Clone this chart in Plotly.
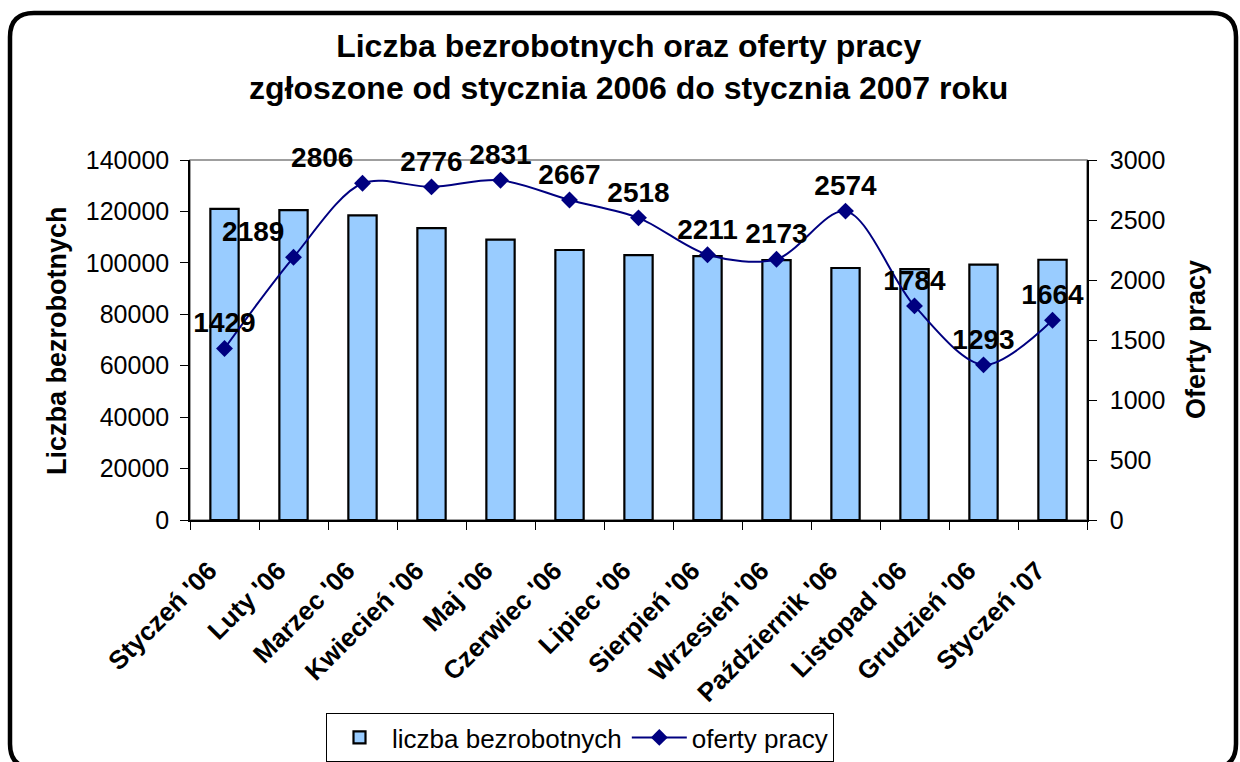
import plotly.graph_objects as go

# ---- data ----
months = ["Styczeń '06", "Luty '06", "Marzec '06", "Kwiecień '06", "Maj '06",
          "Czerwiec '06", "Lipiec '06", "Sierpień '06", "Wrzesień '06",
          "Październik '06", "Listopad '06", "Grudzień '06", "Styczeń '07"]
unemployed = [121000, 120500, 118500, 113500, 109000, 105000, 103000,
              102600, 101100, 98000, 97600, 99300, 101200]
job_offers = [1429, 2189, 2806, 2776, 2831, 2667, 2518, 2211, 2173, 2574,
              1784, 1293, 1664]
label_pos = ["top center", "top left", "top left", "top center", "top center",
             "top center", "top center", "top center", "top center",
             "top center", "top center", "top center", "top center"]
left_ticks = [0, 20000, 40000, 60000, 80000, 100000, 120000, 140000]
right_ticks = [0, 500, 1000, 1500, 2000, 2500, 3000]

W, H = 1240, 762
ML, MR, MT, MB = 190, 153, 160, 242
PW, PH = W - ML - MR, H - MT - MB

def px(x):
    return (x - ML) / PW

def py(y):
    return (H - MB - y) / PH

FONT = "Liberation Sans, Arial, sans-serif"
NB = "\u00a0"

fig = go.Figure()
fig.add_trace(go.Bar(
    x=months, y=unemployed, name="liczba bezrobotnych",
    marker=dict(color="#99CCFF", line=dict(color="black", width=2.2)),
    width=0.41, yaxis="y"))
fig.add_trace(go.Scatter(
    x=months, y=job_offers, name="oferty pracy", yaxis="y2",
    mode="lines+markers+text", line=dict(color="#000080", width=2, shape="spline", smoothing=0.9),
    marker=dict(symbol="diamond", size=13, color="#000080"),
    text=[str(v) for v in job_offers], textposition=label_pos,
    textfont=dict(family=FONT, size=28, color="black", weight="bold"),
    cliponaxis=False))

# frame (rounded rectangle)
fl, ft, fr, fb, rr = 10, 13, 1236, 768, 24
path = (f"M {px(fl+rr)},{py(ft)} L {px(fr-rr)},{py(ft)} Q {px(fr)},{py(ft)} {px(fr)},{py(ft+rr)} "
        f"L {px(fr)},{py(fb-rr)} Q {px(fr)},{py(fb)} {px(fr-rr)},{py(fb)} "
        f"L {px(fl+rr)},{py(fb)} Q {px(fl)},{py(fb)} {px(fl)},{py(fb-rr)} "
        f"L {px(fl)},{py(ft+rr)} Q {px(fl)},{py(ft)} {px(fl+rr)},{py(ft)} Z")

fig.update_layout(
    width=W, height=H,
    margin=dict(l=ML, r=MR, t=MT, b=MB, autoexpand=False),
    paper_bgcolor="white", plot_bgcolor="white",
    font=dict(family=FONT, color="black", size=25),
    bargap=0.6,
    showlegend=True,
    legend=dict(orientation="h", x=px(580), xanchor="center", y=py(713), yanchor="top",
                bordercolor="black", borderwidth=1, bgcolor="white",
                font=dict(size=26, family=FONT), traceorder="normal", itemwidth=55,
                tracegroupgap=0),
    xaxis=dict(type="category", tickangle=-45, tickson="boundaries", ticks="outside",
               ticklen=8, tickcolor="black", showline=True, linecolor="black", linewidth=1.5,
               showgrid=False, tickfont=dict(size=26, family=FONT, weight="bold"),
               tickmode="array", tickvals=months, ticktext=[m + NB * 3 for m in months],
               ticklabelstandoff=8, range=[-0.5, 12.5], automargin=False),
    xaxis2=dict(overlaying="x", anchor="y", range=[-0.5, 12.5],
                tickvals=[i - 0.5 for i in range(len(months) + 1)], ticks="inside", ticklen=8,
                tickcolor="black", showticklabels=False, showgrid=False, showline=False,
                zeroline=False, side="bottom"),
    yaxis=dict(range=[0, 140000], tickvals=left_ticks, ticktext=[str(v) for v in left_ticks],
               ticks="outside", ticklen=8,
               tickcolor="black", showline=True, linecolor="black", linewidth=1.5,
               showgrid=False, zeroline=False, tickfont=dict(size=25), ticklabelstandoff=6,
               automargin=False),
    yaxis2=dict(range=[0, 3000], tickvals=right_ticks, ticktext=[str(v) for v in right_ticks],
                overlaying="y", side="right",
                anchor="x", ticks="outside", ticklen=8, tickcolor="black", showline=True,
                linecolor="black", linewidth=1.5, showgrid=False, zeroline=False,
                tickfont=dict(size=25), ticklabelstandoff=8, automargin=False),
    yaxis3=dict(range=[0, 140000], tickvals=left_ticks, overlaying="y", side="left",
                anchor="x", ticks="inside", ticklen=8, tickcolor="black",
                showticklabels=False, showgrid=False, showline=False, zeroline=False),
    yaxis4=dict(range=[0, 3000], tickvals=right_ticks, overlaying="y", side="right",
                anchor="x", ticks="inside", ticklen=8, tickcolor="black",
                showticklabels=False, showgrid=False, showline=False, zeroline=False),
    shapes=[
        dict(type="rect", xref="paper", yref="paper", x0=0, x1=1, y0=0, y1=1,
             line=dict(color="#808080", width=1.5), layer="below"),
        dict(type="path", xref="paper", yref="paper", path=path,
             line=dict(color="black", width=4.5), fillcolor="rgba(0,0,0,0)"),
    ],
    annotations=[
        dict(text="<b>Liczba bezrobotnych oraz oferty pracy<br>zgłoszone od stycznia 2006 do stycznia 2007 roku</b>",
             xref="paper", yref="paper", x=px(628), y=py(67), xanchor="center", yanchor="middle",
             showarrow=False, font=dict(size=32, family=FONT)),
        dict(text="<b>Liczba bezrobotnych</b>", xref="paper", yref="paper", x=px(57), y=py(341),
             xanchor="center", yanchor="middle",
             textangle=-90, showarrow=False, font=dict(size=27, family=FONT)),
        dict(text="<b>Oferty pracy</b>", xref="paper", yref="paper", x=px(1196), y=py(340),
             xanchor="center", yanchor="middle",
             textangle=-90, showarrow=False, font=dict(size=27, family=FONT)),
    ],
)

fig.write_html("out.html", config={"displayModeBar": False},
               post_script="document.body.style.margin='0';document.body.style.overflow='hidden';")
